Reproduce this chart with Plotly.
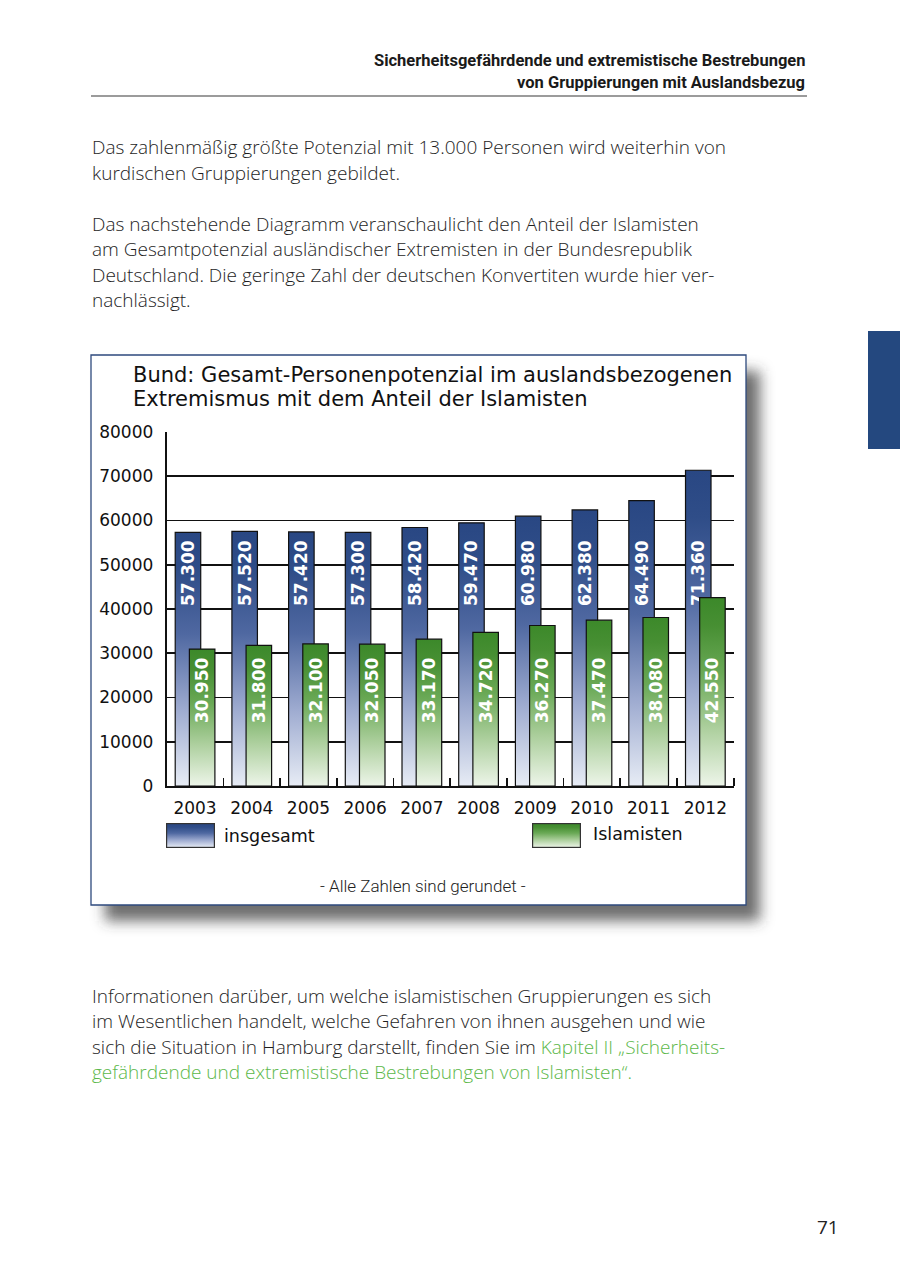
import base64
import plotly.graph_objects as go

# ---------------- data ----------------
years = [2003, 2004, 2005, 2006, 2007, 2008, 2009, 2010, 2011, 2012]
total = [57300, 57520, 57420, 57300, 58420, 59470, 60980, 62380, 64490, 71360]
islamists = [30950, 31800, 32100, 32050, 33170, 34720, 36270, 37470, 38080, 42550]
y_ticks = [0, 10000, 20000, 30000, 40000, 50000, 60000, 70000, 80000]
series_names = ["insgesamt", "Islamisten"]

W, H = 900, 1276


def px(x):
    return x / W


def py(y):
    return 1 - y / H


BAR_W = 0.45
BLUE_OFF = -0.35
GREEN_OFF = -0.10
# labels sit at a fixed height in the original chart (axis units)
BLUE_LABEL_BASE = 40000
GREEN_LABEL_BASE = 13500

BLUE_SCALE = [[0, "#e7ecf5"], [0.3, "#9eabd0"], [0.6, "#4f68a1"], [0.85, "#2f4d88"], [1, "#294783"]]
GREEN_SCALE = [[0, "#edf5e9"], [0.3, "#aed09f"], [0.6, "#6aa956"], [0.85, "#478f33"], [1, "#3c892a"]]

CHART_FONT = "DejaVu Sans, Verdana, sans-serif"
BODY_FONT = "Open Sans, Roboto, Liberation Sans, sans-serif"
HEAD_FONT = "Roboto, Liberation Sans, Arial, sans-serif"
LABEL_FONT = dict(family=CHART_FONT, size=17, color="white", weight="bold")

fig = go.Figure()

for yr, v in zip(years, total):
    x0 = yr + BLUE_OFF
    x1 = x0 + BAR_W
    fig.add_trace(go.Scatter(
        x=[x0, x1, x1, x0, x0], y=[0, 0, v, v, 0], mode="lines", fill="toself",
        fillgradient=dict(type="vertical", colorscale=BLUE_SCALE),
        line=dict(color="#111111", width=1.2), xaxis="x", yaxis="y",
        hoverinfo="skip", showlegend=False))

fig.add_trace(go.Bar(
    x=years, y=[v - BLUE_LABEL_BASE for v in total], base=BLUE_LABEL_BASE,
    customdata=total, width=BAR_W, offset=BLUE_OFF, name=series_names[0],
    marker=dict(color="rgba(0,0,0,0)", line=dict(width=0)),
    texttemplate="%{customdata:,}", textposition="inside", insidetextanchor="start",
    textangle=-90, constraintext="none", textfont=LABEL_FONT,
    xaxis="x", yaxis="y2", hoverinfo="skip", showlegend=False))

for yr, v in zip(years, islamists):
    x0 = yr + GREEN_OFF
    x1 = x0 + BAR_W
    fig.add_trace(go.Scatter(
        x=[x0, x1, x1, x0, x0], y=[0, 0, v, v, 0], mode="lines", fill="toself",
        fillgradient=dict(type="vertical", colorscale=GREEN_SCALE),
        line=dict(color="#111111", width=1.2), xaxis="x", yaxis="y3",
        hoverinfo="skip", showlegend=False))

fig.add_trace(go.Bar(
    x=years, y=[v - GREEN_LABEL_BASE for v in islamists], base=GREEN_LABEL_BASE,
    customdata=islamists, width=BAR_W, offset=GREEN_OFF, name=series_names[1],
    marker=dict(color="rgba(0,0,0,0)", line=dict(width=0)),
    texttemplate="%{customdata:,}", textposition="inside", insidetextanchor="start",
    textangle=-90, constraintext="none", textfont=LABEL_FONT,
    xaxis="x", yaxis="y4", hoverinfo="skip", showlegend=False))


def svg_uri(svg):
    return "data:image/svg+xml;base64," + base64.b64encode(svg.encode("utf-8")).decode("ascii")


def swatch(scale):
    stops = "".join(
        f'<stop offset="{1 - s:.2f}" stop-color="{c}"/>' for s, c in reversed(scale))
    return svg_uri(
        '<svg xmlns="http://www.w3.org/2000/svg" width="49" height="25" viewBox="0 0 49 25">'
        f'<defs><linearGradient id="g" x1="0" y1="0" x2="0" y2="1">{stops}</linearGradient></defs>'
        '<rect x="0.6" y="0.6" width="47.8" height="23.8" fill="url(#g)" stroke="#333" stroke-width="1.2"/></svg>')


shadow_svg = svg_uri(
    '<svg xmlns="http://www.w3.org/2000/svg" width="730" height="630" viewBox="0 0 730 630">'
    '<defs><filter id="b" x="-20%" y="-20%" width="140%" height="140%">'
    '<feGaussianBlur stdDeviation="7"/></filter></defs>'
    '<rect x="24" y="26" width="655" height="550" fill="#3c3c3c" fill-opacity="0.75" filter="url(#b)"/></svg>')

images = [
    dict(source=shadow_svg, xref="paper", yref="paper", x=px(81), y=py(345),
         sizex=730 / W, sizey=630 / H, xanchor="left", yanchor="top",
         sizing="stretch", layer="below"),
    dict(source=swatch(BLUE_SCALE), xref="paper", yref="paper", x=px(166), y=py(823),
         sizex=49 / W, sizey=25 / H, xanchor="left", yanchor="top",
         sizing="stretch", layer="above"),
    dict(source=swatch(GREEN_SCALE), xref="paper", yref="paper", x=px(532), y=py(823),
         sizex=49 / W, sizey=25 / H, xanchor="left", yanchor="top",
         sizing="stretch", layer="above"),
]

shapes = [
    dict(type="line", xref="paper", yref="paper", x0=px(91), x1=px(807), y0=py(96), y1=py(96),
         line=dict(color="#7a7a7a", width=1.5)),
    dict(type="rect", xref="paper", yref="paper", x0=px(868), x1=px(900), y0=py(331), y1=py(449),
         fillcolor="#24487f", line=dict(width=0)),
    dict(type="rect", xref="paper", yref="paper", x0=px(91), x1=px(746), y0=py(355), y1=py(905),
         fillcolor="white", line=dict(color="#2e4a7d", width=1.3), layer="below"),
]

annotations = []


def ann(text, x, y, size, family, color="#222222", xanchor="left", weight="normal"):
    annotations.append(dict(
        text=text, xref="paper", yref="paper", x=px(x), y=py(y), xanchor=xanchor,
        yanchor="middle", showarrow=False, align=xanchor if xanchor != "center" else "center",
        font=dict(family=family, size=size, color=color, weight=weight)))


ann("Sicherheitsgefährdende und extremistische Bestrebungen", 807, 60, 16.5, HEAD_FONT,
    "#1a1a1a", "right", "bold")
ann("von Gruppierungen mit Auslandsbezug", 807, 82, 16.5, HEAD_FONT, "#1a1a1a", "right", "bold")

BODY_C = "#1e1e1e"
GREEN_T = "#5cb84a"
p1 = ["Das zahlenmäßig größte Potenzial mit 13.000 Personen wird weiterhin von",
      "kurdischen Gruppierungen gebildet."]
p2 = ["Das nachstehende Diagramm veranschaulicht den Anteil der Islamisten",
      "am Gesamtpotenzial ausländischer Extremisten in der Bundesrepublik",
      "Deutschland. Die geringe Zahl der deutschen Konvertiten wurde hier ver-",
      "nachlässigt."]
p3 = ["Informationen darüber, um welche islamistischen Gruppierungen es sich",
      "im Wesentlichen handelt, welche Gefahren von ihnen ausgehen und wie",
      "sich die Situation in Hamburg darstellt, finden Sie im "
      f"<span style='color:{GREEN_T}'>Kapitel II „Sicherheits-</span>",
      f"<span style='color:{GREEN_T}'>gefährdende und extremistische Bestrebungen von Islamisten“.</span>"]

BODY_SIZE = 19
for i, line in enumerate(p1):
    ann(line, 90, 147 + i * 25.5, BODY_SIZE, BODY_FONT, BODY_C, "left", 300)
for i, line in enumerate(p2):
    ann(line, 90, 224 + i * 25.3, BODY_SIZE, BODY_FONT, BODY_C, "left", 300)
for i, line in enumerate(p3):
    ann(line, 90, 996 + i * 25.3, BODY_SIZE, BODY_FONT, BODY_C, "left", 300)

ann("Bund: Gesamt-Personenpotenzial im auslandsbezogenen", 131, 375, 21, CHART_FONT, "#111111")
ann("Extremismus mit dem Anteil der Islamisten", 131, 399, 21, CHART_FONT, "#111111")

ann(series_names[0], 222, 836, 17.5, CHART_FONT, "#111111")
ann(series_names[1], 591, 834, 17.5, CHART_FONT, "#111111")

ann("- Alle Zahlen sind gerundet -", 423, 886, 17, HEAD_FONT, "#222222", "center", 300)

ann("71", 841, 1227, 19, BODY_FONT, "#222222", "right")

axis_font = dict(family=CHART_FONT, size=17, color="#111111")
y_dom = [py(786), py(432)]

fig.update_layout(
    width=W, height=H, autosize=False,
    margin=dict(l=0, r=0, t=0, b=0, pad=0),
    paper_bgcolor="white", plot_bgcolor="rgba(0,0,0,0)",
    separators=",.",
    barmode="overlay",
    showlegend=False,
    xaxis=dict(
        domain=[px(166.7), px(733.7)], range=[years[0] - 0.5, years[-1] + 0.5],
        tickmode="array", tickvals=years, ticktext=[str(y) for y in years],
        ticks="", tickfont=axis_font, ticklabelstandoff=6, automargin=False,
        showline=True, linecolor="#111111", linewidth=2,
        showgrid=False, zeroline=False, fixedrange=True,
        minor=dict(tickmode="array", tickvals=[y + 0.5 for y in years], ticks="inside",
                   ticklen=8, tickwidth=1.6, tickcolor="#111111", showgrid=False),
    ),
    yaxis=dict(
        domain=y_dom, range=[y_ticks[0], y_ticks[-1]],
        tickmode="array", tickvals=y_ticks, ticktext=[str(t) for t in y_ticks],
        ticks="", tickfont=axis_font, ticklabelstandoff=8, automargin=False,
        showline=True, linecolor="#111111", linewidth=2,
        showgrid=True, gridcolor="#111111", gridwidth=1.6,
        zeroline=False, fixedrange=True,
    ),
    yaxis2=dict(overlaying="y", range=[y_ticks[0], y_ticks[-1]], visible=False, fixedrange=True),
    yaxis3=dict(overlaying="y", range=[y_ticks[0], y_ticks[-1]], visible=False, fixedrange=True),
    yaxis4=dict(overlaying="y", range=[y_ticks[0], y_ticks[-1]], visible=False, fixedrange=True),
    shapes=shapes, images=images, annotations=annotations,
)

fig.write_html("out.html", config=dict(displayModeBar=False, staticPlot=True),
               post_script="document.documentElement.style.margin='0';"
                           "document.body.style.margin='0';document.body.style.padding='0';"
                           "document.body.style.overflow='hidden';")
